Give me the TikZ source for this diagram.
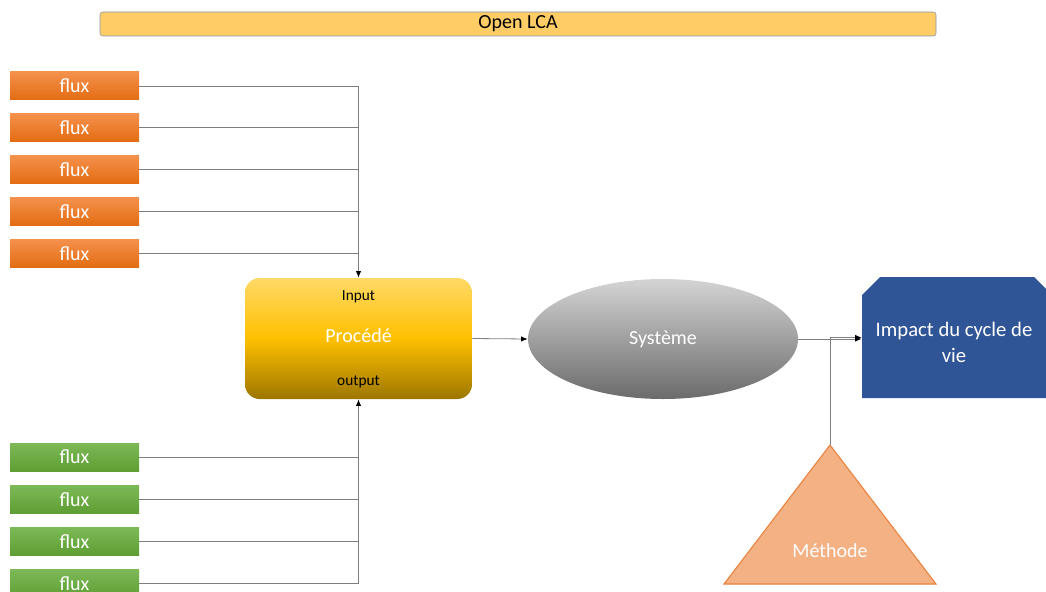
\documentclass[tikz,border=0pt]{standalone}
\usepackage{fontspec}
\setmainfont{Carlito}
\usepackage{xcolor}
\usepackage{tikz}
\usetikzlibrary{positioning,arrows.meta,shapes.geometric}
\definecolor{titre}{HTML}{FFCC66}
\definecolor{titbord}{HTML}{8497B0}
\definecolor{orhaut}{HTML}{F4914C}
\definecolor{orbas}{HTML}{E36C12}
\definecolor{vehaut}{HTML}{7CB957}
\definecolor{vebas}{HTML}{5E9E33}
\definecolor{jhaut}{HTML}{FFD966}
\definecolor{jmil}{HTML}{FFC000}
\definecolor{jbas}{HTML}{9C7600}
\definecolor{gclair}{HTML}{D4D4D4}
\definecolor{gfonce}{HTML}{6B6B6B}
\definecolor{bleu}{HTML}{2F5597}
\definecolor{mfond}{HTML}{F4B183}
\definecolor{mbord}{HTML}{E8823E}
\definecolor{gris}{HTML}{7F7F7F}

\begin{document}
\begin{tikzpicture}[x=0.75pt, y=-0.75pt, font=\fontsize{15}{18}\selectfont,
  fluxo/.style={minimum width=96.75pt, minimum height=21pt, inner sep=0pt, text=white},
  ora/.style={fluxo, top color=orhaut, bottom color=orbas},
  ver/.style={fluxo, top color=vehaut, bottom color=vebas},
  ln/.style={draw=gris, line width=0.6pt},
  fl/.style={ln, -{Latex[length=5pt, width=4pt, color=black]}},
  lab/.style={font=\fontsize{11.5}{13}\selectfont, inner sep=0pt}]
  \useasboundingbox (0,0) rectangle (1046,592);
  \node[draw=titbord, fill=titre, rounded corners=2pt, minimum width=627pt, minimum height=18pt, inner sep=0pt] (titre) at (518,24) {Open LCA};
  \node[ora] (o1) at (74.5,86) {flux};
  \node[ora, below=10pt of o1] (o2) {flux};
  \node[ora, below=10pt of o2] (o3) {flux};
  \node[ora, below=10pt of o3] (o4) {flux};
  \node[ora, below=10pt of o4] (o5) {flux};
  \node[ver] (v1) at (74.5,457) {flux};
  \node[ver, below=10.3pt of v1] (v2) {flux};
  \node[ver, below=10.3pt of v2] (v3) {flux};
  \node[ver, below=10.3pt of v3] (v4) {flux};
  \node[rounded corners=11pt, top color=jhaut, bottom color=jbas, middle color=jmil,
    minimum width=170.25pt, minimum height=90.75pt, inner sep=0pt] (proc) at (358.5,338.5) {};
  \node[text=white] (proct) at ([yshift=2.5pt]proc.center) {Procédé};
  \node[lab] (inp) at ([yshift=-14.25pt]proc.north) {Input};
  \node[lab] (outp) at ([yshift=12.75pt]proc.south) {output};
  \node[ellipse, top color=gclair, bottom color=gfonce, minimum width=202.5pt, minimum height=90pt,
    inner sep=0pt, text=white] (sys) at (663,339) {Système};
  \fill[bleu] (862,398) -- (862,295) -- (880,277) -- (1034,277) -- (1046,289) -- (1046,398) -- cycle;
  \node[minimum width=138pt, minimum height=90.75pt, inner sep=0pt] (imp) at (954,337.5) {};
  \node[text=white, align=center, font=\fontsize{15.5}{19.5}\selectfont] (impt) at ([yshift=-4pt]imp.center) {Impact du cycle de\\vie};
  \filldraw[draw=mbord, fill=mfond, line width=0.8pt] (724,584) -- (830,445) -- (936,584) -- cycle;
  \coordinate (sommet) at (830,445);
  \node[text=white] (meth) at (830,551) {Méthode};
  \foreach \i in {1,...,5}
    \draw[ln] (o\i.east) -- (o\i.east -| proc.north);
  \draw[fl] (o1.east -| proc.north) -- (proc.north);
  \foreach \i in {1,...,4}
    \draw[ln] (v\i.east) -- (v\i.east -| proc.south);
  \draw[fl] (v4.east -| proc.south) -- (proc.south);
  \draw[fl] (proc.east) -- (sys.west);
  \draw[fl] (sys.east) -- (sys.east -| imp.west);
  \draw[fl] (sommet) |- (imp.west);
\end{tikzpicture}
\end{document}
